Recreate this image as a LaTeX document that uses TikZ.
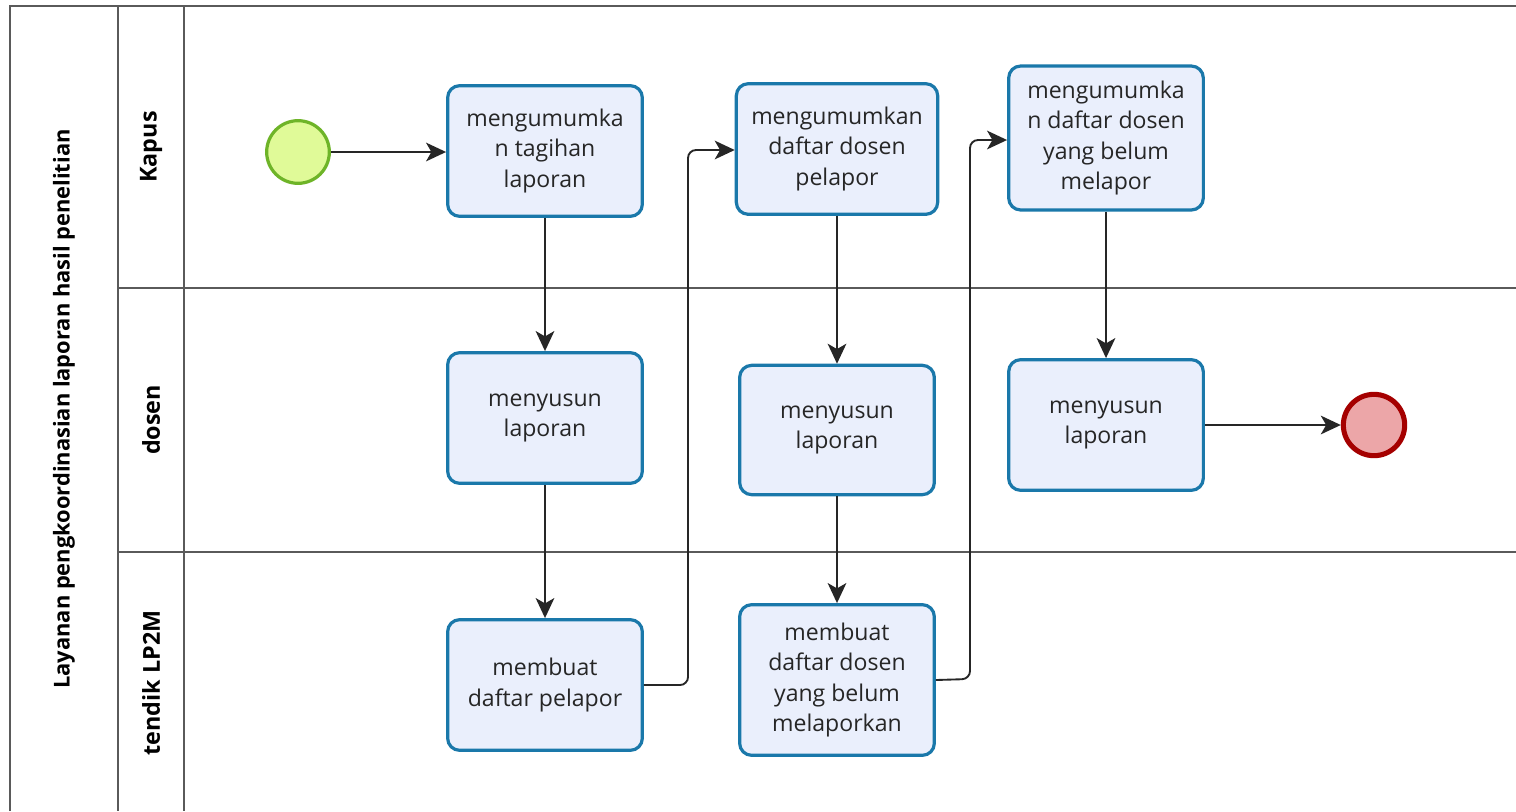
\documentclass[tikz,border=0pt]{standalone}
\usepackage{fontspec}
\setmainfont{Open Sans}
\usetikzlibrary{arrows.meta}
\definecolor{taskfill}{RGB}{234,239,252}
\definecolor{taskdraw}{RGB}{26,120,170}
\definecolor{startfill}{RGB}{224,250,152}
\definecolor{startdraw}{RGB}{110,180,40}
\definecolor{endfill}{RGB}{236,166,168}
\definecolor{enddraw}{RGB}{165,0,0}
\definecolor{lanegray}{RGB}{90,90,90}
\tikzset{
  task/.style={draw=taskdraw, fill=taskfill, line width=2.4pt, rounded corners=9pt,
    align=center, inner sep=0pt, font=\fontsize{17.3}{22.8}\selectfont, text=black!85,
    execute at begin node={\vspace*{4pt}}},
  startev/.style={circle, draw=startdraw, fill=startfill, line width=2.4pt, minimum size=47pt, inner sep=0pt},
  endev/.style={circle, draw=enddraw, fill=endfill, line width=3.8pt, minimum size=46pt, inner sep=0pt},
  flow/.style={draw=black!85, line width=1.4pt, -{Stealth[length=15pt,width=14pt,inset=4pt]}, rounded corners=6pt},
  laneline/.style={draw=lanegray, line width=1pt},
  lanelabel/.style={rotate=90, font=\fontsize{17.5}{20}\selectfont\bfseries},
}
\begin{document}
\begin{tikzpicture}[x=0.75pt, y=-0.75pt]
\useasboundingbox (0,0) rectangle (1516,811);
\fill[white] (0,0) rectangle (1516,811);
% pool
\draw[laneline, line width=1.6pt] (10,811) -- (10,6) -- (1516,6);
\draw[laneline] (118,6) -- (118,811);
\draw[laneline] (184,6) -- (184,811);
\draw[laneline] (118,288) -- (1516,288);
\draw[laneline] (118,552) -- (1516,552);
\node[lanelabel, font=\fontsize{16.4}{18}\selectfont\bfseries] (pool) at (64,409) {Layanan pengkoordinasian laporan hasil penelitian};
\node[lanelabel] (lk) at (151,147) {Kapus};
\node[lanelabel] (ld) at (151,420) {dosen};
\node[lanelabel] (lt) at (151,683) {tendik LP2M};
% events
\node[startev] (s) at (298,152) {};
\node[endev] (e) at (1374,425) {};
% tasks
\node[task, minimum width=146pt, minimum height=98pt] (a1) at (545,151) {mengumumka\\n tagihan\\laporan};
\node[task, minimum width=151pt, minimum height=98pt] (a2) at (837,149) {mengumumkan\\daftar dosen\\pelapor};
\node[task, minimum width=146pt, minimum height=108pt] (a3) at (1106,138) {mengumumka\\n daftar dosen\\yang belum\\melapor};
\node[task, minimum width=146pt, minimum height=98pt] (b1) at (545,418) {menyusun\\laporan};
\node[task, minimum width=146pt, minimum height=97pt] (b2) at (837,430) {menyusun\\laporan};
\node[task, minimum width=146pt, minimum height=98pt] (b3) at (1106,425) {menyusun\\laporan};
\node[task, minimum width=146pt, minimum height=98pt] (c1) at (545,685) {membuat\\daftar pelapor};
\node[task, minimum width=146pt, minimum height=113pt] (c2) at (837,680) {membuat\\daftar dosen\\yang belum\\melaporkan};
% flows
\draw[flow] (s) -- (a1.west |- s);
\draw[flow] (a1) -- (b1);
\draw[flow] (b1) -- (c1);
\draw[flow] (c1.east) -- (688,685) -- (688,150) -- (a2.west |- 0,150);
\draw[flow] (a2) -- (b2);
\draw[flow] (b2) -- (c2);
\draw[flow] (c2.east) -- (970,679) -- (970,140) -- (a3.west |- 0,140);
\draw[flow] (a3.south) -- (b3.north);
\draw[flow] (b3) -- (e);
\end{tikzpicture}
\end{document}
